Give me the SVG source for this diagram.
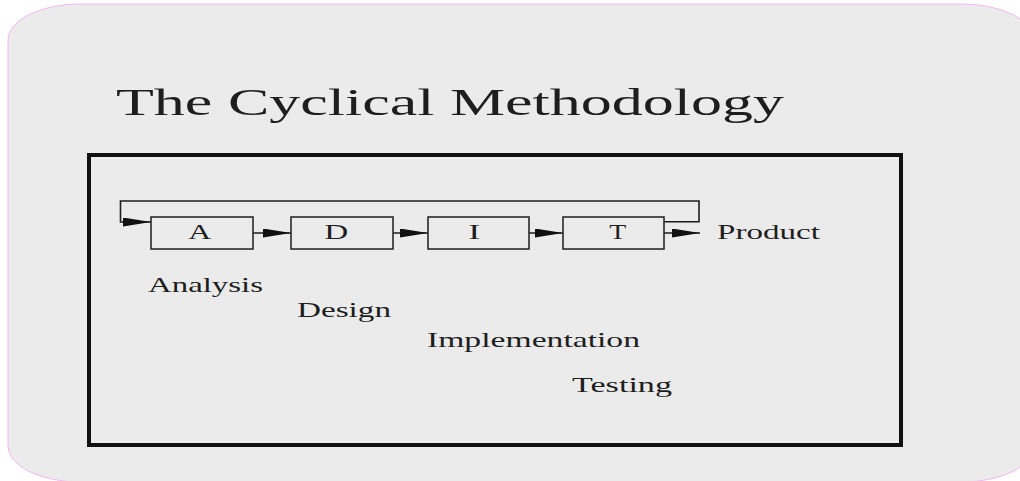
<svg xmlns="http://www.w3.org/2000/svg" width="1020" height="481" viewBox="0 0 1020 481">
<style>
.t{font-family:"Liberation Serif","Times New Roman",serif;fill:#1e1e1e}
.box{fill:none;stroke:#2a2a2a;stroke-width:1.6}
.ln{fill:none;stroke:#1e1e1e;stroke-width:1.6}
</style>
<defs>
<marker id="ah" markerUnits="userSpaceOnUse" markerWidth="30" markerHeight="10" refX="28" refY="4.5" orient="auto">
<path d="M0,0 L28,4.5 L0,9 Z" fill="#111"/>
</marker>
</defs>
<rect x="8" y="4" width="1026" height="478" rx="72" ry="36" fill="#ebebeb" stroke="#f2b8f2" stroke-width="1"/>
<text class="t" x="116" y="115" font-size="38" textLength="668" lengthAdjust="spacingAndGlyphs">The Cyclical Methodology</text>
<rect id="frame" x="89" y="155" width="812" height="290" fill="none" stroke="#111" stroke-width="4"/>
<g id="connectors">
<path class="ln" d="M664,221.7 H699 V201 H120.5 V222 H151" marker-end="url(#ah)"/>
<line class="ln" x1="253" y1="233" x2="291" y2="233" marker-end="url(#ah)"/>
<line class="ln" x1="393" y1="233" x2="428" y2="233" marker-end="url(#ah)"/>
<line class="ln" x1="529" y1="233" x2="563" y2="233" marker-end="url(#ah)"/>
<line class="ln" x1="664" y1="233" x2="700" y2="233" marker-end="url(#ah)"/>
</g>
<g id="nodeA">
<rect class="box" x="151" y="217" width="102" height="32"/>
<text class="t" x="188.3" y="239.3" font-size="21" textLength="23" lengthAdjust="spacingAndGlyphs">A</text>
</g>
<g id="nodeD">
<rect class="box" x="291" y="217" width="102" height="32"/>
<text class="t" x="324.3" y="239.3" font-size="21" textLength="24" lengthAdjust="spacingAndGlyphs">D</text>
</g>
<g id="nodeI">
<rect class="box" x="428" y="217" width="101" height="32"/>
<text class="t" x="468.3" y="239.3" font-size="21" textLength="12" lengthAdjust="spacingAndGlyphs">I</text>
</g>
<g id="nodeT">
<rect class="box" x="563" y="217" width="101" height="32"/>
<text class="t" x="609.3" y="239.3" font-size="21" textLength="17" lengthAdjust="spacingAndGlyphs">T</text>
</g>
<g id="product">
<text class="t" x="717" y="239.3" font-size="21" textLength="103" lengthAdjust="spacingAndGlyphs">Product</text>
</g>
<g id="labels">
<text class="t" x="148" y="292" font-size="21" textLength="115" lengthAdjust="spacingAndGlyphs">Analysis</text>
<text class="t" x="297" y="316.5" font-size="21" textLength="94" lengthAdjust="spacingAndGlyphs">Design</text>
<text class="t" x="427" y="346.5" font-size="21" textLength="213" lengthAdjust="spacingAndGlyphs">Implementation</text>
<text class="t" x="572" y="391.5" font-size="21" textLength="100" lengthAdjust="spacingAndGlyphs">Testing</text>
</g>
</svg>
